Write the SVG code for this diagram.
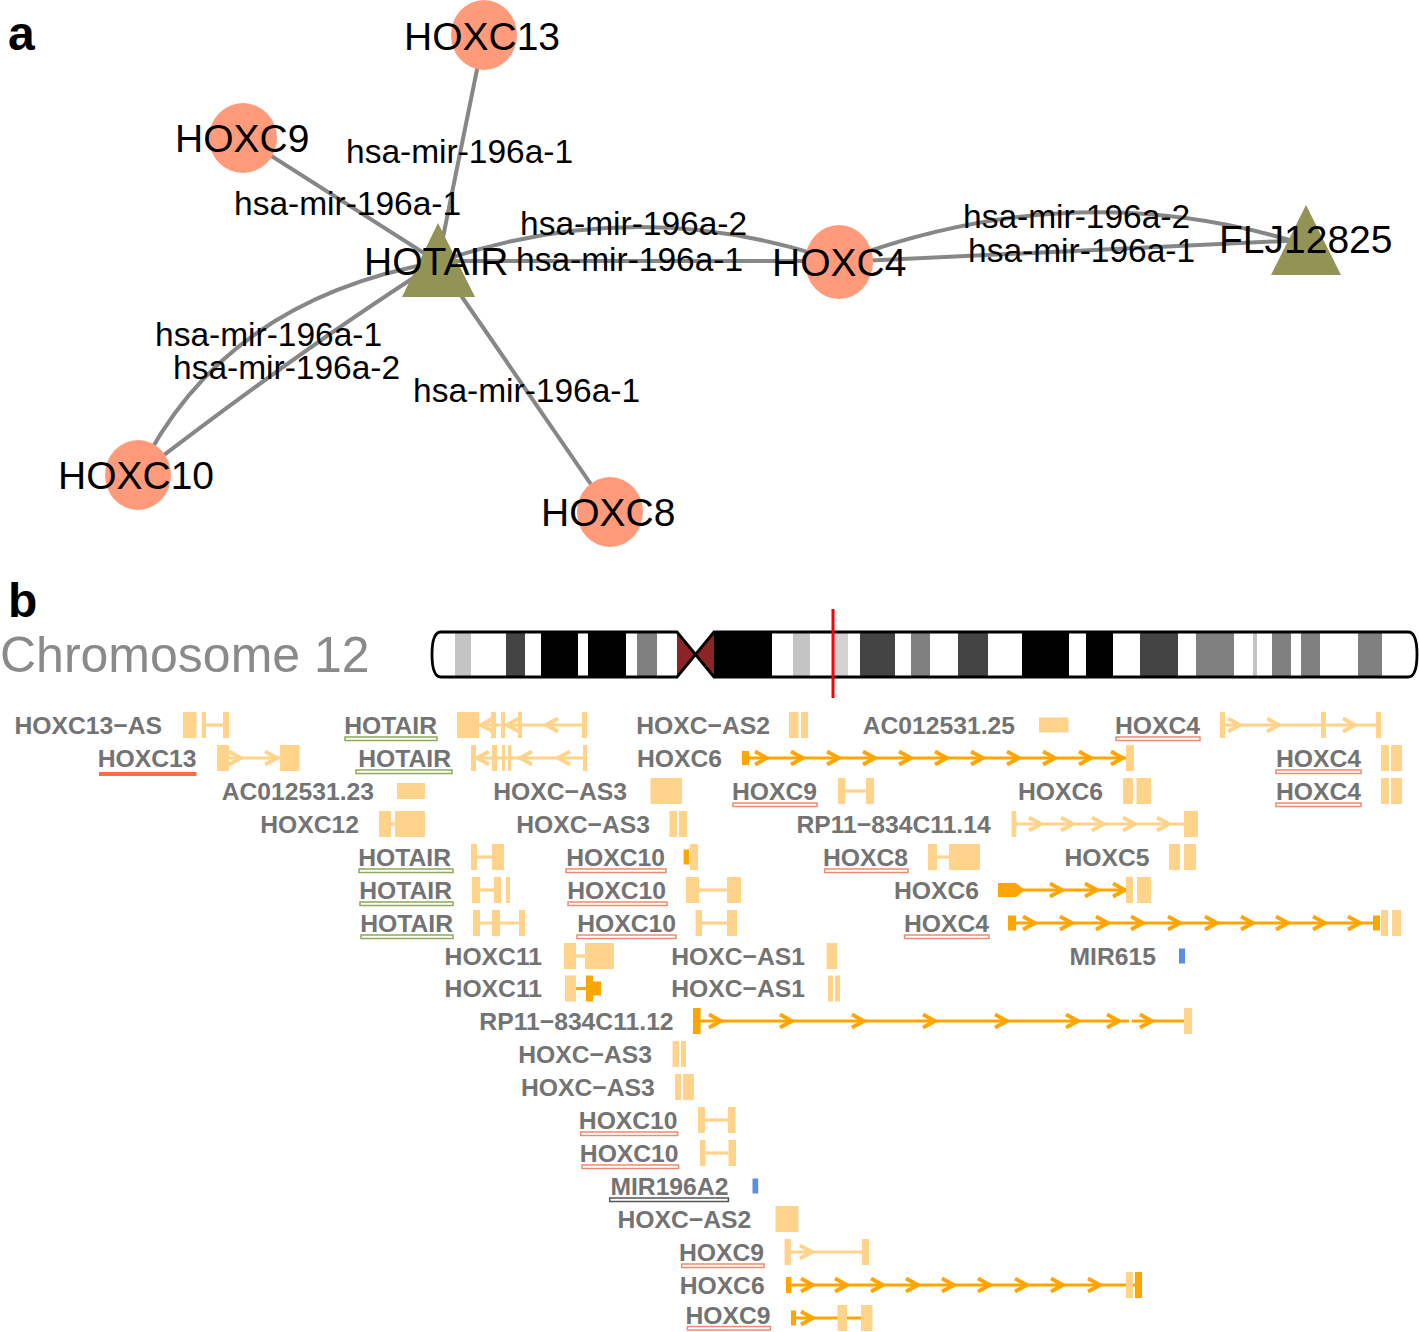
<svg xmlns="http://www.w3.org/2000/svg" xmlns:xlink="http://www.w3.org/1999/xlink" width="1419" height="1332" viewBox="0 0 1419 1332">
<style>
.edge{fill:none;stroke:#878787;stroke-width:4}
.gene{fill:#FF9B7B}
.lnc{fill:#939355}
.nl{font-family:"Liberation Sans",Arial,sans-serif;font-size:39px;fill:#000}
.el{font-family:"Liberation Sans",Arial,sans-serif;font-size:33.5px;fill:#000}
.pl{font-family:"Liberation Sans",Arial,sans-serif;font-weight:bold;font-size:48px;fill:#000}
.chrt{font-family:"Liberation Sans",Arial,sans-serif;font-size:50px;fill:#8A8A8A}
.tl{font-family:"Liberation Sans",Arial,sans-serif;font-weight:bold;font-size:24.7px;fill:#737373;text-anchor:end}
.ug{fill:#fff;stroke:#8FAA55;stroke-width:1.5}
.us{fill:#fff;stroke:#F08A70;stroke-width:1.5}
.uk{fill:#fff;stroke:#555;stroke-width:1.5}
.uf{fill:#F7703F}
.ex{fill:#FFD38A}
.dx{fill:#FFA500}
.bl{fill:#5A8FE6}
.il{fill:none;stroke:#FFD38A;stroke-width:3.2}
.dl{fill:none;stroke:#FFA500;stroke-width:3.2}
.cwl{fill:none;stroke:#FFD38A;stroke-width:3.8}
.cwd{fill:none;stroke:#FFA500;stroke-width:3.8}
.bk{fill:#000}.dg{fill:#444}.mg{fill:#808080}.lg{fill:#C4C4C4}.xg{fill:#D2D2D2}
</style>
<defs>
<path id="cr" d="M-12,-6.5 L0,0 L-12,6.5"/>
<path id="cl" d="M12,-6.5 L0,0 L12,6.5"/>
<clipPath id="chrclip">
<path d="M441,632 L677,632 L695.5,654.5 L714,632 L1408,632 Q1417,632 1417,654.5 Q1417,677 1408,677 L714,677 L695.5,654.5 L677,677 L441,677 Q432,677 432,654.5 Q432,632 441,632 Z"/>
</clipPath>
</defs>
<rect width="1419" height="1332" fill="#fff"/>

<!-- Panel a -->
<text class="pl" x="8" y="50">a</text>
<g id="connectors">
<line class="edge" x1="438" y1="262" x2="484" y2="35"/>
<line class="edge" x1="438" y1="262" x2="243" y2="138"/>
<path class="edge" d="M438,262 Q640,192 839,262"/>
<line class="edge" x1="438" y1="261" x2="839" y2="261"/>
<path class="edge" d="M839,262 Q1075,172 1306,245"/>
<line class="edge" x1="839" y1="262" x2="1306" y2="240"/>
<path class="edge" d="M438,262 Q222,300 138,475"/>
<path class="edge" d="M438,262 Q300,350 138,475"/>
<line class="edge" x1="438" y1="262" x2="610" y2="512"/>
</g>
<g id="node-HOXC13"><ellipse class="gene" cx="484" cy="35" rx="33" ry="35"/><text class="nl" x="404" y="50">HOXC13</text></g>
<g id="node-HOXC9"><ellipse class="gene" cx="243" cy="138" rx="34" ry="35"/><text class="nl" x="175" y="152">HOXC9</text></g>
<g id="node-HOXC4"><ellipse class="gene" cx="839" cy="262" rx="34" ry="37"/><text class="nl" x="772" y="276">HOXC4</text></g>
<g id="node-HOXC10"><ellipse class="gene" cx="138" cy="475" rx="33" ry="35"/><text class="nl" x="58" y="489">HOXC10</text></g>
<g id="node-HOXC8"><ellipse class="gene" cx="610" cy="512" rx="33" ry="35"/><text class="nl" x="541" y="526">HOXC8</text></g>
<g id="node-HOTAIR"><polygon class="lnc" points="438,223 402,297 475,297"/><text class="nl" x="364" y="275">HOTAIR</text></g>
<g id="node-FLJ12825"><polygon class="lnc" points="1306,205 1271,275 1341,275"/><text class="nl" x="1219" y="253">FLJ12825</text></g>
<g id="edge-labels">
<text class="el" x="346" y="163">hsa-mir-196a-1</text>
<text class="el" x="234" y="215">hsa-mir-196a-1</text>
<text class="el" x="520" y="235">hsa-mir-196a-2</text>
<text class="el" x="516" y="271">hsa-mir-196a-1</text>
<text class="el" x="963" y="228">hsa-mir-196a-2</text>
<text class="el" x="968" y="262">hsa-mir-196a-1</text>
<text class="el" x="155" y="346">hsa-mir-196a-1</text>
<text class="el" x="173" y="379">hsa-mir-196a-2</text>
<text class="el" x="413" y="402">hsa-mir-196a-1</text>
</g>

<!-- Panel b -->
<text class="pl" x="8" y="617">b</text>
<text class="chrt" x="0" y="672">Chromosome 12</text>
<g id="chromosome">
<path d="M441,632 L677,632 L695.5,654.5 L714,632 L1408,632 Q1417,632 1417,654.5 Q1417,677 1408,677 L714,677 L695.5,654.5 L677,677 L441,677 Q432,677 432,654.5 Q432,632 441,632 Z" fill="#fff"/>
<g clip-path="url(#chrclip)">
<rect class="lg" x="455" y="632" width="16" height="45"/>
<rect class="dg" x="506" y="632" width="19" height="45"/>
<rect class="bk" x="541" y="632" width="37" height="45"/>
<rect class="bk" x="588" y="632" width="38" height="45"/>
<rect class="mg" x="637" y="632" width="20" height="45"/>
<polygon points="677,632 695.5,654.5 677,677" fill="#8B2424"/>
<polygon points="714,632 695.5,654.5 714,677" fill="#8B2424"/>
<rect class="bk" x="714" y="632" width="58" height="45"/>
<rect class="lg" x="793" y="632" width="17" height="45"/>
<rect class="xg" x="834" y="632" width="14" height="45"/>
<rect class="dg" x="860" y="632" width="35" height="45"/>
<rect class="mg" x="911" y="632" width="19" height="45"/>
<rect class="dg" x="958" y="632" width="30" height="45"/>
<rect class="bk" x="1022" y="632" width="47" height="45"/>
<rect class="bk" x="1086" y="632" width="27" height="45"/>
<rect class="dg" x="1140" y="632" width="38" height="45"/>
<rect class="mg" x="1196" y="632" width="38" height="45"/>
<rect class="lg" x="1253" y="632" width="4" height="45"/>
<rect class="mg" x="1272" y="632" width="19" height="45"/>
<rect class="mg" x="1301" y="632" width="19" height="45"/>
<rect class="mg" x="1358" y="632" width="24" height="45"/>
</g>
<path d="M441,632 L677,632 L714,677 L1408,677 Q1417,677 1417,654.5 Q1417,632 1408,632 L714,632 L677,677 L441,677 Q432,677 432,654.5 Q432,632 441,632 Z" fill="none" stroke="#000" stroke-width="2.8" stroke-linejoin="miter"/>
<line x1="833" y1="609" x2="833" y2="698" stroke="#FF0000" stroke-width="3"/>
</g>

<!-- Gene track rows -->
<g id="row0" transform="translate(0,725)">
<g id="g-HOXC13-AS"><text class="tl" x="162" y="8.5">HOXC13−AS</text>
<line class="il" x1="206" y1="0" x2="223" y2="0"/><rect class="ex" x="183" y="-13" width="13.5" height="26"/><rect class="ex" x="201.7" y="-13" width="4.3" height="26"/><rect class="ex" x="223" y="-13" width="6" height="26"/></g>
<g id="g-HOTAIR-1"><text class="tl" x="437" y="8.5">HOTAIR</text><rect class="ug" x="345" y="12" width="92" height="3.5"/>
<line class="il" x1="479" y1="0" x2="584" y2="0"/><use href="#cl" x="481" class="cwl"/><use href="#cl" x="507" class="cwl"/><use href="#cl" x="546" class="cwl"/>
<rect class="ex" x="457" y="-13" width="22" height="26"/><rect class="ex" x="491" y="-13" width="5" height="26"/><rect class="ex" x="501" y="-13" width="4" height="26"/><rect class="ex" x="518" y="-13" width="4" height="26"/><rect class="ex" x="582" y="-13" width="5" height="26"/></g>
<g id="g-HOXC-AS2-1"><text class="tl" x="770" y="8.5">HOXC−AS2</text>
<rect class="ex" x="789" y="-13" width="9.5" height="26"/><rect class="ex" x="801" y="-13" width="7" height="26"/></g>
<g id="g-AC012531.25"><text class="tl" x="1015" y="8.5">AC012531.25</text>
<rect class="ex" x="1039" y="-7.5" width="29.5" height="15"/></g>
<g id="g-HOXC4-1"><text class="tl" x="1200" y="8.5">HOXC4</text><rect class="us" x="1116" y="12" width="84" height="3.5"/>
<line class="il" x1="1225" y1="0" x2="1376" y2="0"/><use href="#cr" x="1240" class="cwl"/><use href="#cr" x="1279" class="cwl"/><use href="#cr" x="1355" class="cwl"/>
<rect class="ex" x="1220" y="-13" width="5" height="26"/><rect class="ex" x="1321" y="-13" width="5" height="26"/><rect class="ex" x="1376" y="-13" width="5" height="26"/></g>
</g>

<g id="row1" transform="translate(0,758)">
<g id="g-HOXC13"><text class="tl" x="196.5" y="8.5">HOXC13</text><rect class="uf" x="99" y="14" width="97.5" height="4"/>
<line class="il" x1="229" y1="0" x2="280" y2="0"/><use href="#cr" x="241" class="cwl"/><use href="#cr" x="277" class="cwl"/>
<rect class="ex" x="217" y="-13" width="12" height="26"/><rect class="ex" x="280" y="-13" width="19.5" height="26"/></g>
<g id="g-HOTAIR-2"><text class="tl" x="451" y="8.5">HOTAIR</text><rect class="ug" x="356" y="12" width="96" height="3.5"/>
<line class="il" x1="476" y1="0" x2="583" y2="0"/><use href="#cl" x="477" class="cwl"/><use href="#cl" x="520" class="cwl"/><use href="#cl" x="558" class="cwl"/>
<rect class="ex" x="471" y="-13" width="5" height="26"/><rect class="ex" x="492" y="-13" width="5" height="26"/><rect class="ex" x="502" y="-13" width="3" height="26"/><rect class="ex" x="508" y="-13" width="3" height="26"/><rect class="ex" x="583" y="-13" width="4" height="26"/></g>
<g id="g-HOXC6-1"><text class="tl" x="722" y="8.5">HOXC6</text>
<line class="dl" x1="749" y1="0" x2="1126" y2="0"/>
<use href="#cr" x="767" class="cwd"/><use href="#cr" x="803" class="cwd"/><use href="#cr" x="839" class="cwd"/><use href="#cr" x="875" class="cwd"/><use href="#cr" x="911" class="cwd"/><use href="#cr" x="947" class="cwd"/><use href="#cr" x="983" class="cwd"/><use href="#cr" x="1019" class="cwd"/><use href="#cr" x="1055" class="cwd"/><use href="#cr" x="1091" class="cwd"/><use href="#cr" x="1123" class="cwd"/>
<rect class="dx" x="742" y="-7" width="7" height="14"/><rect class="ex" x="1126" y="-13" width="8" height="26"/></g>
<g id="g-HOXC4-2"><text class="tl" x="1361" y="8.5">HOXC4</text><rect class="us" x="1276" y="12" width="85" height="3.5"/>
<rect class="ex" x="1381" y="-13" width="8" height="26"/><rect class="ex" x="1391" y="-13" width="11" height="26"/></g>
</g>

<g id="row2" transform="translate(0,791)">
<g id="g-AC012531.23"><text class="tl" x="374" y="8.5">AC012531.23</text>
<rect class="ex" x="397" y="-8" width="28" height="16"/></g>
<g id="g-HOXC-AS3-1"><text class="tl" x="627" y="8.5">HOXC−AS3</text>
<rect class="ex" x="650.5" y="-13" width="31.5" height="26"/></g>
<g id="g-HOXC9-1"><text class="tl" x="817" y="8.5">HOXC9</text><rect class="us" x="733" y="12" width="84" height="3.5"/>
<line class="il" x1="845" y1="0" x2="866" y2="0"/><rect class="ex" x="838" y="-13" width="7.5" height="26"/><rect class="ex" x="866" y="-13" width="8" height="26"/></g>
<g id="g-HOXC6-2"><text class="tl" x="1103" y="8.5">HOXC6</text>
<rect class="ex" x="1123" y="-13" width="10" height="26"/><rect class="ex" x="1136.5" y="-13" width="14.5" height="26"/></g>
<g id="g-HOXC4-3"><text class="tl" x="1361" y="8.5">HOXC4</text><rect class="us" x="1276" y="12" width="85" height="3.5"/>
<rect class="ex" x="1381" y="-13" width="8" height="26"/><rect class="ex" x="1391" y="-13" width="11" height="26"/></g>
</g>

<g id="row3" transform="translate(0,824)">
<g id="g-HOXC12"><text class="tl" x="359" y="8.5">HOXC12</text>
<line class="il" x1="391" y1="0" x2="395" y2="0"/><rect class="ex" x="379" y="-13" width="12" height="26"/><rect class="ex" x="395" y="-13" width="30" height="26"/></g>
<g id="g-HOXC-AS3-2"><text class="tl" x="650" y="8.5">HOXC−AS3</text>
<rect class="ex" x="669.5" y="-13" width="7.5" height="26"/><rect class="ex" x="679" y="-13" width="8" height="26"/></g>
<g id="g-RP11-834C11.14"><text class="tl" x="990.7" y="8.5">RP11−834C11.14</text>
<line class="il" x1="1016" y1="0" x2="1184" y2="0"/><use href="#cr" x="1041" class="cwl"/><use href="#cr" x="1073" class="cwl"/><use href="#cr" x="1104" class="cwl"/><use href="#cr" x="1135" class="cwl"/><use href="#cr" x="1169" class="cwl"/>
<rect class="ex" x="1011.6" y="-13" width="4.7" height="26"/><rect class="ex" x="1184" y="-13" width="14" height="26"/></g>
</g>

<g id="row4" transform="translate(0,857)">
<g id="g-HOTAIR-3"><text class="tl" x="451" y="8.5">HOTAIR</text><rect class="ug" x="359" y="12" width="94" height="3.5"/>
<line class="il" x1="477" y1="0" x2="492" y2="0"/><rect class="ex" x="471" y="-13" width="6" height="26"/><rect class="ex" x="492" y="-13" width="12" height="26"/></g>
<g id="g-HOXC10-1"><text class="tl" x="665" y="8.5">HOXC10</text><rect class="us" x="566" y="12" width="100" height="3.5"/>
<rect class="dx" x="683.6" y="-7.5" width="5.4" height="15"/><rect class="ex" x="690" y="-13" width="8" height="26"/></g>
<g id="g-HOXC8"><text class="tl" x="908" y="8.5">HOXC8</text><rect class="us" x="824.6" y="12" width="83.4" height="3.5"/>
<line class="il" x1="937" y1="0" x2="949" y2="0"/><rect class="ex" x="928" y="-13" width="9" height="26"/><rect class="ex" x="949" y="-13" width="31" height="26"/></g>
<g id="g-HOXC5"><text class="tl" x="1149.5" y="8.5">HOXC5</text>
<rect class="ex" x="1169" y="-13" width="11" height="26"/><rect class="ex" x="1184" y="-13" width="12" height="26"/></g>
</g>

<g id="row5" transform="translate(0,890)">
<g id="g-HOTAIR-4"><text class="tl" x="452" y="8.5">HOTAIR</text><rect class="ug" x="360" y="12" width="93" height="3.5"/>
<line class="il" x1="480" y1="0" x2="494" y2="0"/><rect class="ex" x="472" y="-13" width="8" height="26"/><rect class="ex" x="494" y="-13" width="7" height="26"/><rect class="ex" x="506" y="-13" width="4" height="26"/></g>
<g id="g-HOXC10-2"><text class="tl" x="666" y="8.5">HOXC10</text><rect class="us" x="568" y="12" width="99" height="3.5"/>
<line class="il" x1="699" y1="0" x2="727" y2="0"/><rect class="ex" x="686" y="-13" width="13" height="26"/><rect class="ex" x="727" y="-13" width="14" height="26"/></g>
<g id="g-HOXC6-3"><text class="tl" x="979" y="8.5">HOXC6</text>
<line class="dl" x1="1016" y1="0" x2="1126" y2="0"/><use href="#cr" x="1062" class="cwd"/><use href="#cr" x="1097" class="cwd"/><use href="#cr" x="1125" class="cwd"/>
<rect class="dx" x="998" y="-7" width="18" height="14"/><polygon class="dx" points="1016,-7 1025,0 1016,7"/>
<rect class="ex" x="1126" y="-13" width="7" height="26"/><rect class="ex" x="1137" y="-13" width="14" height="26"/></g>
</g>

<g id="row6" transform="translate(0,923)">
<g id="g-HOTAIR-5"><text class="tl" x="453" y="8.5">HOTAIR</text><rect class="ug" x="361" y="12" width="92" height="3.5"/>
<line class="il" x1="480" y1="0" x2="519" y2="0"/><rect class="ex" x="473" y="-13" width="7" height="26"/><rect class="ex" x="492" y="-13" width="8" height="26"/><rect class="ex" x="519" y="-13" width="6" height="26"/></g>
<g id="g-HOXC10-3"><text class="tl" x="676" y="8.5">HOXC10</text><rect class="us" x="577" y="12" width="99" height="3.5"/>
<line class="il" x1="702" y1="0" x2="727" y2="0"/><rect class="ex" x="695.6" y="-13" width="6.4" height="26"/><rect class="ex" x="727" y="-13" width="10" height="26"/></g>
<g id="g-HOXC4-4"><text class="tl" x="989" y="8.5">HOXC4</text><rect class="us" x="904.5" y="12" width="84.5" height="3.5"/>
<line class="dl" x1="1016" y1="0" x2="1373" y2="0"/>
<use href="#cr" x="1035" class="cwd"/><use href="#cr" x="1072" class="cwd"/><use href="#cr" x="1108" class="cwd"/><use href="#cr" x="1143" class="cwd"/><use href="#cr" x="1180" class="cwd"/><use href="#cr" x="1217" class="cwd"/><use href="#cr" x="1253" class="cwd"/><use href="#cr" x="1288" class="cwd"/><use href="#cr" x="1325" class="cwd"/><use href="#cr" x="1360" class="cwd"/>
<rect class="dx" x="1008" y="-7.5" width="8" height="15"/><rect class="dx" x="1373" y="-7.5" width="7" height="15"/>
<rect class="ex" x="1381" y="-13" width="7" height="26"/><rect class="ex" x="1392" y="-13" width="9" height="26"/></g>
</g>

<g id="row7" transform="translate(0,956)">
<g id="g-HOXC11-1"><text class="tl" x="542" y="8.5">HOXC11</text>
<line class="il" x1="576" y1="0" x2="585" y2="0"/><rect class="ex" x="564" y="-13" width="12" height="26"/><rect class="ex" x="585" y="-13" width="29" height="26"/></g>
<g id="g-HOXC-AS1-1"><text class="tl" x="805" y="8.5">HOXC−AS1</text>
<rect class="ex" x="826.6" y="-13" width="10.7" height="26"/></g>
<g id="g-MIR615"><text class="tl" x="1156" y="8.5">MIR615</text>
<rect class="bl" x="1179" y="-7.5" width="6" height="15"/></g>
</g>

<g id="row8" transform="translate(0,988.5)">
<g id="g-HOXC11-2"><text class="tl" x="542" y="8.5">HOXC11</text>
<line class="dl" x1="576" y1="0" x2="586" y2="0"/><rect class="ex" x="565" y="-13" width="11" height="26"/><rect class="dx" x="586" y="-13" width="7" height="26"/><rect class="dx" x="593" y="-7" width="8" height="14"/></g>
<g id="g-HOXC-AS1-2"><text class="tl" x="805" y="8.5">HOXC−AS1</text>
<rect class="ex" x="828" y="-13" width="5" height="26"/><rect class="ex" x="835" y="-13" width="5" height="26"/></g>
</g>

<g id="row9" transform="translate(0,1021)">
<g id="g-RP11-834C11.12"><text class="tl" x="673.6" y="8.5">RP11−834C11.12</text>
<line class="dl" x1="700" y1="0" x2="1129" y2="0"/><line class="dl" x1="1132" y1="0" x2="1184" y2="0"/>
<use href="#cr" x="721" class="cwd"/><use href="#cr" x="792" class="cwd"/><use href="#cr" x="864" class="cwd"/><use href="#cr" x="935" class="cwd"/><use href="#cr" x="1007" class="cwd"/><use href="#cr" x="1078" class="cwd"/><use href="#cr" x="1119" class="cwd"/><use href="#cr" x="1152" class="cwd"/>
<rect class="dx" x="693" y="-13" width="7.6" height="26"/><rect class="ex" x="1184" y="-13" width="8" height="26"/></g>
</g>

<g id="row10" transform="translate(0,1054)">
<g id="g-HOXC-AS3-3"><text class="tl" x="652" y="8.5">HOXC−AS3</text>
<rect class="ex" x="672.6" y="-13" width="6.4" height="26"/><rect class="ex" x="681" y="-13" width="5" height="26"/></g>
</g>
<g id="row11" transform="translate(0,1087)">
<g id="g-HOXC-AS3-4"><text class="tl" x="654.7" y="8.5">HOXC−AS3</text>
<rect class="ex" x="675" y="-13" width="6" height="26"/><rect class="ex" x="683" y="-13" width="11" height="26"/></g>
</g>
<g id="row12" transform="translate(0,1120)">
<g id="g-HOXC10-4"><text class="tl" x="677.6" y="8.5">HOXC10</text><rect class="us" x="580.7" y="12" width="97" height="3.5"/>
<line class="il" x1="705" y1="0" x2="728" y2="0"/><rect class="ex" x="698" y="-13" width="7" height="26"/><rect class="ex" x="728" y="-13" width="7.5" height="26"/></g>
</g>
<g id="row13" transform="translate(0,1153)">
<g id="g-HOXC10-5"><text class="tl" x="678.6" y="8.5">HOXC10</text><rect class="us" x="582" y="12" width="96.6" height="3.5"/>
<line class="il" x1="705.5" y1="0" x2="728.5" y2="0"/><rect class="ex" x="700" y="-13" width="5.5" height="26"/><rect class="ex" x="728.5" y="-13" width="7.5" height="26"/></g>
</g>
<g id="row14" transform="translate(0,1186)">
<g id="g-MIR196A2"><text class="tl" x="728.4" y="8.5">MIR196A2</text><rect class="uk" x="609.7" y="12" width="118.7" height="3.5"/>
<rect class="bl" x="752.5" y="-7.5" width="5.7" height="15"/></g>
</g>
<g id="row15" transform="translate(0,1219)">
<g id="g-HOXC-AS2-2"><text class="tl" x="751.3" y="8.5">HOXC−AS2</text>
<rect class="ex" x="775.5" y="-13" width="23" height="26"/></g>
</g>
<g id="row16" transform="translate(0,1252)">
<g id="g-HOXC9-2"><text class="tl" x="764" y="8.5">HOXC9</text><rect class="us" x="681.7" y="12" width="82.3" height="3.5"/>
<line class="il" x1="790.8" y1="0" x2="862" y2="0"/><use href="#cr" x="812" class="cwl"/>
<rect class="ex" x="784.6" y="-13" width="6.2" height="26"/><rect class="ex" x="862" y="-13" width="7" height="26"/></g>
</g>
<g id="row17" transform="translate(0,1285)">
<g id="g-HOXC6-4"><text class="tl" x="764.7" y="8.5">HOXC6</text>
<line class="dl" x1="791.5" y1="0" x2="1135" y2="0"/>
<use href="#cr" x="813" class="cwd"/><use href="#cr" x="847" class="cwd"/><use href="#cr" x="883" class="cwd"/><use href="#cr" x="918" class="cwd"/><use href="#cr" x="954" class="cwd"/><use href="#cr" x="990" class="cwd"/><use href="#cr" x="1027" class="cwd"/><use href="#cr" x="1063" class="cwd"/><use href="#cr" x="1100" class="cwd"/>
<rect class="dx" x="786" y="-8" width="5.5" height="16"/><rect class="ex" x="1126" y="-13" width="7" height="26"/><rect class="dx" x="1135" y="-13" width="7" height="26"/></g>
</g>
<g id="row18" transform="translate(0,1318)">
<g id="g-HOXC9-3"><text class="tl" x="770.5" y="6">HOXC9</text><rect class="us" x="687.4" y="8.5" width="83" height="3.5"/>
<line class="dl" x1="796" y1="0" x2="861" y2="0"/><use href="#cr" x="813" class="cwd"/>
<rect class="dx" x="791" y="-7.5" width="5" height="15"/><rect class="ex" x="837.5" y="-13" width="9.5" height="26"/><rect class="ex" x="861" y="-13" width="11.5" height="26"/></g>
</g>
</svg>
